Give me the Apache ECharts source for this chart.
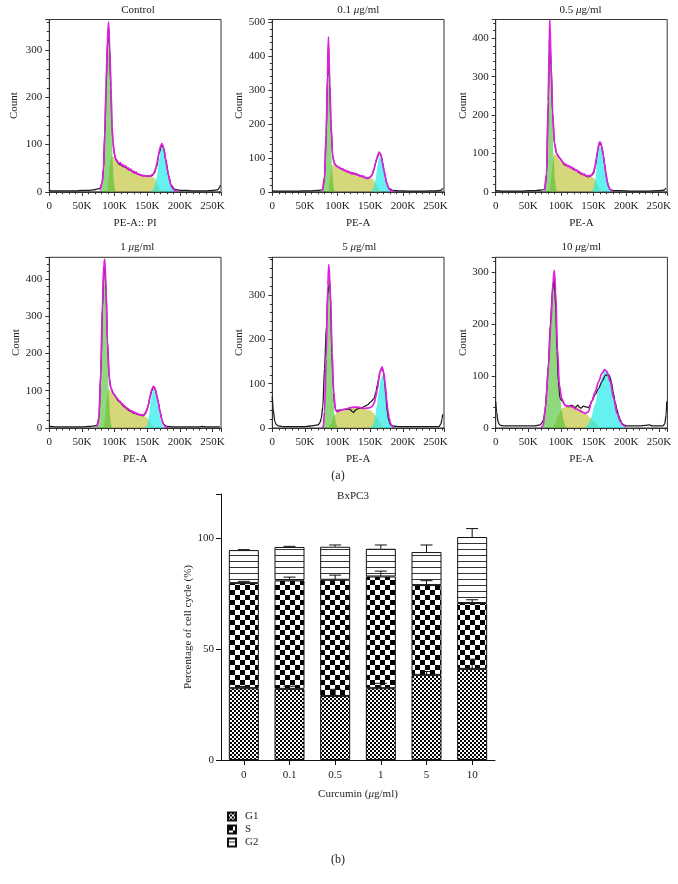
<!DOCTYPE html>
<html><head><meta charset="utf-8">
<script src="https://cdn.jsdelivr.net/npm/echarts@6/dist/echarts.min.js"></script>
<style>html,body{margin:0;padding:0;background:#fff}#c{width:678px;height:884px}</style>
</head><body><div id="c"></div>
<script>
// ---------- (a) histogram data: [PE-A in K, count] ----------
const ctrlTotal = [[0,4],[3,2],[10,2],[20,2],[30,2],[40,2],[50,3],[60,3],[68,4],[74,6],[78,8],[81,20],[83,50],[85,120],[87,220],[89,310],[90.8,350],[92.5,300],[94.4,220],[96,140],[97.5,105],[99.6,80],[102,67],[107,58],[115,53],[123,46],[131,40],[141,35],[151,33],[157,34],[160.8,39],[164.4,53],[168,81],[172,99],[175,93],[178.4,67],[182.6,35],[186.7,14],[192,5],[200,3],[210,3],[220,2],[230,2],[240,2],[250,3],[258,4],[261,10],[262,14]];
const ctrlFit = [[78,3],[81,18],[83,48],[85,125],[87,230],[89,320],[90.8,360],[92.5,305],[94.4,225],[96,140],[97.5,105],[99.6,82],[101,72],[103,68],[105,63],[107,60],[109,62],[111,56],[113,57],[115,53],[117,55],[119,50],[121,51],[123,46],[125,48],[127,42],[129,44],[131,40],[133,42],[135,37],[137,38],[139,35],[141,36],[143,33],[145,35],[147,33],[149,34],[151,32],[153,34],[155,33],[157,36],[159,37],[161,42],[163,50],[165,62],[167,76],[169,90],[171,99],[172.5,102],[174,98],[176,88],[178.4,68],[180.5,50],[182.6,35],[184.6,22],[186.7,13],[189,7],[192,3],[196,1]];
const ctrlG1 = [[79,0],[81,15],[83,60],[85,150],[87,250],[89,330],[90.8,355],[92.5,300],[94.4,200],[96,110],[97.5,55],[99,22],[100.5,6],[102,0]];
const ctrlS = [[89,0],[91,30],[93,60],[95,75],[98,74],[102,65],[107,58],[115,52],[123,45],[131,39],[141,34],[151,32],[157,32],[161,30],[164,22],[167,12],[170,4],[172,0]];
const ctrlG2 = [[156,0],[159,5],[162,15],[165,35],[168,65],[170.5,88],[173,98],[175.5,92],[178.4,68],[181,45],[184,24],[187,10],[190,3],[193,0]];

const p01Total = [[0,3],[10,2],[20,2],[30,2],[40,2],[50,3],[60,3],[68,4],[74,5],[77.4,7],[80,40],[82.5,165],[84.5,330],[86,434],[88,315],[90,190],[92.6,105],[95,84],[100,74],[105,69],[115,59],[125.5,54],[135.6,47],[145.7,40],[150,43],[153,50],[155.5,65],[158,84],[161,102],[163.5,113],[165.5,112],[167,104],[169,85],[171,64],[173,45],[175,27],[178.6,10],[185,4],[195,3],[210,2],[230,2],[250,3],[258,4],[261,10]];
const p01Fit = [[77,3],[80,44],[82.5,173],[84.5,345],[86,457],[88,325],[90,195],[92.6,103],[95,84],[97,78],[100,74],[102,72],[104,70],[106,66],[108,68],[110,62],[112,64],[114,59],[116,61],[118,56],[120,58],[122,52],[124,56],[126,51],[128,54],[130,49],[132,51],[134,46],[136,48],[138,44],[140,46],[142,41],[144,42],[146,39],[148,41],[150,44],[152,48],[154,56],[156,68],[158,84],[160,98],[162,110],[163.5,117],[165,114],[167,104],[169,85],[171,64],[173,45],[175,27],[177,15],[179,8],[182,3],[186,1]];
const p01G1 = [[77,0],[79,8],[81,50],[83,200],[84.5,360],[86,430],[87.5,360],[89.5,200],[91.5,80],[93,30],[94.5,8],[96,0]];
const p01S = [[86,0],[88,35],[90,60],[93,82],[96,78],[100,72],[110,63],[120,56],[130,50],[140,44],[148,40],[152,40],[155,36],[158,25],[161,14],[164,5],[167,0]];
const p01G2 = [[152,0],[155,10],[158,35],[161,75],[163.5,102],[166,102],[168.5,85],[171,62],[173.5,38],[176,18],[179,6],[182,0]];

const p05Total = [[0,3],[10,2],[20,2],[30,2],[40,2],[50,3],[60,3],[66,4],[72,5],[75.5,7],[78,45],[80.6,235],[82,365],[83,413],[85,326],[87.3,205],[90,126],[93.4,100],[98.6,87],[106,70],[114,65],[121.7,57],[132,46],[142,39],[147,42],[150,48],[153,68],[155,91],[157,112],[159,127],[161,125],[162.7,117],[165,95],[166.8,74],[169,48],[171,26],[173,14],[175.6,6],[180,3],[190,3],[210,2],[230,2],[250,3],[258,4],[261,10]];
const p05Fit = [[75,3],[78,48],[80.6,240],[82,375],[83,448],[85,330],[87.3,208],[90,128],[93.4,100],[96,92],[98.6,87],[100,84],[102,79],[104,76],[106,70],[108,72],[110,66],[112,68],[114,63],[116,65],[118,60],[120,61],[122,56],[124,57],[126,52],[128,53],[130,48],[132,49],[134,44],[136,46],[138,41],[140,43],[142,40],[144,42],[146,43],[148,46],[150,52],[152,64],[154,82],[156,104],[158,123],[159.5,130],[161,128],[162.7,118],[165,95],[166.8,74],[169,48],[171,27],[173,14],[175.6,6],[179,2]];
const p05G1 = [[75,0],[77,10],[78.5,45],[80.5,220],[82,360],[83,400],[84.5,350],[86.5,220],[89,90],[91,30],[92.5,8],[94,0]];
const p05S = [[83,0],[85,35],[87,70],[90,100],[93,95],[98,84],[105,72],[115,62],[125,52],[135,44],[145,40],[150,37],[153,30],[156,20],[159,9],[162,2],[164,0]];
const p05G2 = [[147,0],[150,8],[153,35],[156,90],[159,118],[162,115],[164.5,92],[166.8,70],[169,45],[171,25],[174,7],[177,0]];

const p1Total = [[0,6],[2,4],[10,3],[20,3],[30,3],[40,3],[50,3],[60,4],[66,5],[71,6],[73.7,8],[76,26],[78.8,142],[81.4,321],[83.5,420],[85,429],[87,366],[89,232],[91.8,133],[94.4,106],[99.6,89],[107,71],[115,57],[123,46],[130.7,39],[138.5,35],[143.7,33],[146.5,37],[148.9,44],[151.5,60],[154,80],[157,100],[159,108],[160.3,109],[162.5,102],[164.4,89],[167,68],[169.6,44],[172,25],[174.8,10],[180,4],[190,3],[200,3],[210,3],[220,3],[230,3],[235,4],[240,3],[250,3],[258,3],[261,4]];
const p1Fit = [[73,3],[76,28],[78.8,150],[81.4,335],[83.5,440],[85,453],[87,375],[89,236],[91.8,135],[94.4,107],[97,96],[99.6,90],[102,82],[104,80],[106,74],[108,72],[110,67],[112,65],[114,60],[116,58],[118,55],[120,52],[122,50],[124,46],[126,47],[128,42],[130,43],[132,39],[134,40],[136,36],[138,37],[140,34],[142,36],[144,34],[146,38],[148,43],[150,52],[152,65],[154,82],[156,98],[158,108],[159.5,112],[161,110],[162.5,103],[164.4,90],[167,68],[169.6,44],[172,25],[174.8,10],[178,3],[181,1]];
const p1G1 = [[73,0],[75,10],[77,40],[80,200],[82.5,380],[84.5,430],[86.5,380],[89,220],[91.5,80],[93,35],[94.5,10],[96,0]];
const p1S = [[84,0],[86,40],[88,80],[91,105],[95,96],[100,88],[105,75],[115,58],[125,45],[135,37],[143,33],[148,30],[152,22],[155,15],[158,7],[161,1],[162,0]];
const p1G2 = [[147,0],[150,8],[153,35],[156,80],[159.5,105],[163,95],[165,78],[167,55],[169,36],[171,20],[173,9],[175,3],[177,0]];

const p5Total = [[0,71],[1.5,40],[4,14],[6,8],[9,5],[15,3],[25,3],[35,3],[45,3],[50,3],[55,4],[60,5],[65,6],[70,7],[73,12],[75,22],[77.4,48],[80,135],[83,232],[85,300],[86.5,320],[88,330],[89,300],[90,232],[91.3,170],[92.6,120],[94,80],[95,56],[97,42],[98.7,37],[101,40],[105,41],[110,42],[113,42],[117,43],[120,41],[122.5,37],[124.5,35],[127,40],[130.6,43],[136,45],[140.7,48],[146,52],[150.8,59],[156,67],[158.5,80],[161,97],[163,112],[165,127],[168.5,135],[170.5,125],[172,105],[174,72],[176,37],[178.5,17],[181,7],[186,4],[195,3],[210,3],[230,3],[245,3],[255,3],[258,8],[260,20],[261,31]];
const p5Fit = [[76,0],[78,3],[80,37],[82.5,157],[85,322],[86.5,369],[89,308],[91.6,172],[94,82],[96.7,41],[100,37],[105,40],[110,42],[115,44],[120,46],[125,47],[130,47],[135,46],[140,44],[145,45],[150,46],[153,49],[156,56],[158.5,70],[161,89],[163,108],[165,127],[168,138],[171,123],[173,98],[175,67],[177,40],[179,22],[181,11],[183,5],[186,0]];
const p5G1 = [[77,0],[79,8],[81,50],[84,230],[86.5,340],[88.5,300],[91,180],[93.5,70],[95.5,28],[97.5,10],[100,0]];
const p5S = [[86,0],[90,10],[95,28],[100,37],[110,42],[120,45],[130,46],[140,44],[150,40],[155,34],[160,24],[165,12],[170,3],[173,0]];
const p5G2 = [[151,0],[154,6],[157,22],[160,48],[163,80],[166,110],[169,118],[172,105],[174,85],[176,60],[178,38],[180,20],[182,9],[185,2],[187,0]];

const p10Total = [[0,51],[1.5,30],[3.6,12],[5.5,7],[7.7,5],[12,4],[20,4],[30,4],[40,4],[50,4],[60,4],[67.8,6],[71,10],[73,15],[75.5,31],[78,70],[80.6,121],[83.7,199],[86.8,263],[89.8,287],[91.9,231],[94,147],[96,89],[98.6,57],[102,52],[106,44],[111.4,41],[116.5,44],[121.7,39],[125.8,44],[128,40],[131,38],[134,42],[137,41],[140,40],[142,39],[144.5,44],[147,51],[152.5,64],[157.6,76],[162.7,89],[167.9,101],[173,103],[175,98],[177,89],[180.7,64],[183,49],[185.8,35],[188,25],[191,15],[193.5,9],[196,6],[200,4],[210,4],[220,4],[230,5],[235,6],[240,4],[250,4],[256,4],[259,8],[261,25],[262,51]];
const p10Fit = [[70,0],[73,6],[76.5,44],[80.6,115],[84.7,205],[87.8,282],[89.8,303],[91.9,263],[94.5,154],[97.5,83],[101,57],[106,44],[111.4,42],[116.5,41],[124,36],[132,31],[137,28],[142,31],[147,51],[152.5,70],[157.6,89],[162.7,105],[166.8,112],[170,109],[175.6,89],[180.7,57],[185.8,28],[191,12],[195,5],[199,2]];
const p10G1 = [[70,0],[73,8],[76,35],[80,100],[84,200],[88,280],[90,295],[92,260],[95,160],[98,80],[101,35],[104,14],[107,4],[109,0]];
const p10S = [[88,0],[91,8],[95,22],[102,38],[110,43],[116,44],[122,42],[130,36],[138,28],[145,20],[152,10],[158,3],[162,0]];
const p10G2 = [[137,0],[141,6],[145,15],[152,45],[158,75],[163,98],[167,110],[171,108],[176,88],[181,57],[186,28],[191,10],[195,3],[198,0]];

const panelTitles = ['Control', '0.1 {i|μ}g/ml', '0.5 {i|μ}g/ml', '1 {i|μ}g/ml', '5 {i|μ}g/ml', '10 {i|μ}g/ml'];
const panelXNames = ['PE-A:: PI', 'PE-A', 'PE-A', 'PE-A', 'PE-A', 'PE-A'];
const panelYMax = [365, 508, 449, 458, 385, 328];
const panelTotals = [ctrlTotal, p01Total, p05Total, p1Total, p5Total, p10Total];
const panelFits = [ctrlFit, p01Fit, p05Fit, p1Fit, p5Fit, p10Fit];
const panelG1 = [ctrlG1, p01G1, p05G1, p1G1, p5G1, p10G1];
const panelS = [ctrlS, p01S, p05S, p1S, p5S, p10S];
const panelG2 = [ctrlG2, p01G2, p05G2, p1G2, p5G2, p10G2];

// ---------- (b) bar chart data ----------
const doses = ['0', '0.1', '0.5', '1', '5', '10'];
const g1Pct = [32.4, 32.1, 28.9, 32.4, 38.4, 41.1];
const sPct = [47.4, 48.9, 52.4, 50.4, 40.5, 29.7];
const g2Pct = [14.9, 15.1, 14.9, 12.5, 14.9, 29.8];
const g1Err = [0.8, 1.2, 3.0, 2.2, 1.5, 4.4];
const sErr = [0.8, 1.5, 2.1, 2.4, 2.0, 1.5];
const g2Err = [0.2, 0.3, 0.8, 1.7, 3.2, 3.8];
const starMarks = [[5, 105.5]];

// ---------- layout / styles ----------
const FONT = 'Liberation Serif';
const TXT = '#222';
const layouts = [
  {l: 49.3, t: 19.5, w: 171.7, h: 172.3, gap: 30, tx: 138, tt: 5},
  {l: 272.3, t: 19.5, w: 171.7, h: 172.3, gap: 27.5, tx: 358.3, tt: 5},
  {l: 495.7, t: 19.5, w: 171.5, h: 172.3, gap: 27, tx: 580.5, tt: 5},
  {l: 49.3, t: 257.3, w: 171.7, h: 170.7, gap: 28, tx: 137.3, tt: 242},
  {l: 272.3, t: 257.3, w: 171.7, h: 170.7, gap: 26, tx: 359.3, tt: 242},
  {l: 495.7, t: 257.3, w: 171.7, h: 170.7, gap: 26, tx: 581.3, tt: 242}
];

function pattern(kind) {
  const c = document.createElement('canvas');
  const ctx = c.getContext('2d');
  if (kind === 'g1') {
    c.width = 4; c.height = 4;
    ctx.fillStyle = '#fff'; ctx.fillRect(0, 0, 4, 4);
    ctx.fillStyle = '#000'; ctx.fillRect(0, 0, 2, 2); ctx.fillRect(2, 2, 2, 2);
  } else if (kind === 's') {
    c.width = 10; c.height = 10;
    ctx.fillStyle = '#fff'; ctx.fillRect(0, 0, 10, 10);
    ctx.fillStyle = '#000'; ctx.fillRect(0, 0, 5, 5); ctx.fillRect(5, 5, 5, 5);
  } else {
    c.width = 4; c.height = 6;
    ctx.fillStyle = '#fff'; ctx.fillRect(0, 0, 4, 6);
    ctx.fillStyle = '#333'; ctx.fillRect(0, 3, 4, 1);
  }
  return {image: c, repeat: 'repeat'};
}

const grids = [], xAxes = [], yAxes = [], series = [], titles = [];
const axisTxt = {fontFamily: FONT, fontSize: 11, color: TXT};

layouts.forEach((L, i) => {
  grids.push({left: L.l, top: L.t, width: L.w, height: L.h, show: true, borderColor: '#333', borderWidth: 1, backgroundColor: 'transparent'});
  xAxes.push({
    type: 'value', gridIndex: i, min: 0, max: 263, interval: 50,
    axisLine: {show: true, onZero: false, lineStyle: {color: '#333', width: 1}},
    axisTick: {show: true, length: 4, lineStyle: {color: '#333'}},
    minorTick: {show: true, splitNumber: 5, length: 2.5, lineStyle: {color: '#333'}},
    splitLine: {show: false}, minorSplitLine: {show: false},
    axisLabel: Object.assign({margin: 9, formatter: v => (v % 50 === 0 ? (v === 0 ? '0' : v + 'K') : '')}, axisTxt),
    name: panelXNames[i], nameLocation: 'middle', nameGap: 26, nameTextStyle: axisTxt
  });
  yAxes.push({
    type: 'value', gridIndex: i, min: 0, max: panelYMax[i], interval: 100,
    axisLine: {show: true, lineStyle: {color: '#333', width: 1}},
    axisTick: {show: true, length: 4, lineStyle: {color: '#333'}},
    minorTick: {show: true, splitNumber: 5, length: 2.5, lineStyle: {color: '#333'}},
    splitLine: {show: false},
    axisLabel: Object.assign({margin: 7, formatter: v => (v % 100 === 0 ? String(v) : '')}, axisTxt),
    name: 'Count', nameLocation: 'middle', nameGap: L.gap, nameTextStyle: axisTxt
  });
  titles.push({
    text: panelTitles[i], left: L.tx, top: L.tt, textAlign: 'center', padding: 0,
    textStyle: {fontFamily: FONT, fontSize: 11, fontWeight: 'normal', color: TXT,
      rich: {i: {fontFamily: FONT, fontSize: 11, fontStyle: 'italic', color: TXT}}}
  });
  const base = {type: 'line', xAxisIndex: i, yAxisIndex: i, showSymbol: false, symbol: 'none',
    smooth: 0.3, smoothMonotone: 'x', silent: true, clip: true};
  series.push(Object.assign({}, base, {data: panelS[i], lineStyle: {width: 0}, areaStyle: {color: 'rgba(195,195,60,0.68)', opacity: 1}}));
  series.push(Object.assign({}, base, {data: panelG1[i], lineStyle: {width: 0}, areaStyle: {color: 'rgba(70,190,40,0.6)', opacity: 1}}));
  series.push(Object.assign({}, base, {data: panelG2[i], lineStyle: {width: 0}, areaStyle: {color: 'rgba(30,235,235,0.68)', opacity: 1}}));
  series.push(Object.assign({}, base, {data: panelTotals[i], lineStyle: {width: 1.3, color: '#1c1a22'}}));
  series.push(Object.assign({}, base, {data: panelFits[i], lineStyle: {width: 1.7, color: '#e020e0'}}));
});

// bar chart grid (index 6)
grids.push({left: 221, top: 494, width: 274, height: 266});
xAxes.push({
  type: 'category', gridIndex: 6, data: doses,
  axisLine: {show: true, lineStyle: {color: '#111', width: 1}},
  axisTick: {show: true, alignWithLabel: true, length: 5, lineStyle: {color: '#111'}},
  axisLabel: Object.assign({margin: 10}, axisTxt),
  name: 'Curcumin ({i|μ}g/ml)', nameLocation: 'middle', nameGap: 29,
  nameTextStyle: Object.assign({rich: {i: {fontFamily: FONT, fontSize: 11, fontStyle: 'italic', color: TXT}}}, axisTxt)
});
yAxes.push({
  type: 'value', gridIndex: 6, min: 0, max: 120, interval: 50,
  axisLine: {show: true, lineStyle: {color: '#111', width: 1}},
  axisTick: {show: true, length: 5, lineStyle: {color: '#111'}},
  splitLine: {show: false},
  axisLabel: Object.assign({margin: 7, formatter: v => (v % 50 === 0 ? String(v) : '')}, axisTxt),
  name: 'Percentage of cell cycle (%)', nameLocation: 'middle', nameGap: 24, nameTextStyle: axisTxt
});
titles.push({text: 'BxPC3', left: 353, top: 491, textAlign: 'center', padding: 0,
  textStyle: {fontFamily: FONT, fontSize: 11, fontWeight: 'normal', color: TXT}});
titles.push({text: '(a)', left: 338, top: 470, textAlign: 'center', padding: 0,
  textStyle: {fontFamily: FONT, fontSize: 12, fontWeight: 'normal', color: TXT}});
titles.push({text: '(b)', left: 338, top: 854, textAlign: 'center', padding: 0,
  textStyle: {fontFamily: FONT, fontSize: 12, fontWeight: 'normal', color: TXT}});

const barNames = ['G1', 'S', 'G2'];
const barVals = [g1Pct, sPct, g2Pct];
const pats = [pattern('g1'), pattern('s'), pattern('g2')];
barNames.forEach((n, k) => {
  series.push({type: 'bar', name: n, stack: 'cc', xAxisIndex: 6, yAxisIndex: 6, barWidth: 30,
    data: barVals[k], itemStyle: {color: pats[k], borderColor: '#111', borderWidth: 1}});
});

const errData = [];
doses.forEach((d, i) => {
  const t1 = g1Pct[i], t2 = t1 + sPct[i], t3 = t2 + g2Pct[i];
  errData.push([i, t1, t1 + g1Err[i]]);
  errData.push([i, t2, t2 + sErr[i]]);
  errData.push([i, t3, t3 + g2Err[i]]);
});
series.push({
  type: 'custom', xAxisIndex: 6, yAxisIndex: 6, data: errData, z: 5, silent: true,
  encode: {x: 0, y: [1, 2]},
  renderItem: (params, api) => {
    const p0 = api.coord([api.value(0), api.value(1)]);
    const p1 = api.coord([api.value(0), api.value(2)]);
    const hw = 6;
    return {type: 'group', children: [
      {type: 'line', shape: {x1: p0[0], y1: p0[1], x2: p1[0], y2: p1[1]}, style: {stroke: '#111', lineWidth: 1}},
      {type: 'line', shape: {x1: p1[0] - hw, y1: p1[1], x2: p1[0] + hw, y2: p1[1]}, style: {stroke: '#111', lineWidth: 1}}
    ]};
  }
});
series.push({
  type: 'scatter', xAxisIndex: 6, yAxisIndex: 6, data: starMarks, symbolSize: 1, silent: true,
  itemStyle: {opacity: 0},
  label: {show: true, position: 'inside', formatter: '*', fontFamily: FONT, fontSize: 12, color: TXT}
});

const chart = echarts.init(document.getElementById('c'), null, {renderer: 'canvas'});
chart.setOption({
  animation: false,
  backgroundColor: '#fff',
  title: titles,
  grid: grids, xAxis: xAxes, yAxis: yAxes,
  legend: {
    data: barNames, orient: 'vertical', left: 222, top: 806, itemWidth: 8, itemHeight: 8, itemGap: 2,
    icon: 'rect', selectedMode: false,
    textStyle: {fontFamily: FONT, fontSize: 11, color: TXT, padding: [0, 0, 0, 4]}
  },
  series: series
});
</script></body></html>
